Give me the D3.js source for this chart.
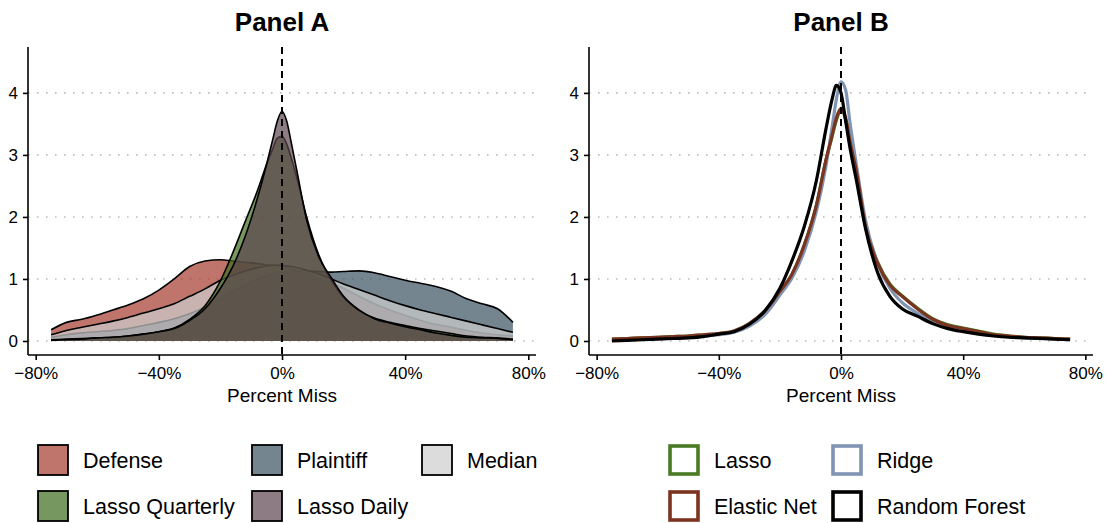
<!DOCTYPE html>
<html>
<head>
<meta charset="utf-8">
<script src="https://cdn.jsdelivr.net/npm/d3@7"></script>
<style>
  body { margin: 0; background: #fff; }
  text { font-family: "Liberation Sans", Arial, sans-serif; fill: #000; }
</style>
</head>
<body>
<div id="chart"></div>
<script>
// percent miss grid (x) shared by all curves
var missPct = [-75,-70,-65,-60,-55,-50,-45,-40,-35,-30,-25,-20,-16,-12,-8,-5,-3,-1.5,0,1.5,3,5,8,12,16,20,25,30,35,40,45,50,55,60,65,70,75];

// Panel A densities
var defense   = [0.18,0.30,0.35,0.42,0.50,0.58,0.68,0.82,1.00,1.20,1.29,1.31,1.29,1.27,1.25,1.23,1.22,1.21,1.20,1.18,1.16,1.13,1.08,1.00,0.93,0.85,0.72,0.60,0.50,0.41,0.33,0.27,0.22,0.17,0.13,0.10,0.08];
var plaintiff = [0.06,0.10,0.13,0.15,0.17,0.20,0.25,0.30,0.36,0.44,0.55,0.68,0.80,0.91,1.00,1.05,1.08,1.10,1.11,1.12,1.12,1.13,1.13,1.12,1.11,1.12,1.13,1.10,1.04,0.98,0.93,0.88,0.80,0.68,0.60,0.52,0.30];
var median    = [0.10,0.17,0.22,0.27,0.32,0.38,0.45,0.52,0.60,0.72,0.84,0.98,1.06,1.13,1.18,1.21,1.22,1.22,1.22,1.21,1.20,1.18,1.14,1.08,1.00,0.92,0.83,0.74,0.65,0.57,0.50,0.44,0.38,0.32,0.26,0.20,0.14];
var lassoQuarterly = [0.02,0.03,0.04,0.05,0.06,0.08,0.11,0.15,0.21,0.35,0.57,0.97,1.42,1.92,2.42,2.85,3.10,3.27,3.30,3.18,2.95,2.60,2.00,1.38,0.98,0.70,0.49,0.37,0.30,0.25,0.20,0.16,0.12,0.08,0.06,0.05,0.03];
var lassoDaily     = [0.01,0.02,0.03,0.05,0.06,0.08,0.11,0.15,0.20,0.33,0.52,0.85,1.20,1.68,2.30,2.85,3.25,3.55,3.70,3.55,3.20,2.70,1.95,1.35,1.02,0.72,0.50,0.36,0.29,0.23,0.18,0.13,0.09,0.06,0.05,0.04,0.02];

// Panel B densities
var lasso        = [0.03,0.04,0.05,0.06,0.07,0.08,0.10,0.12,0.16,0.28,0.48,0.80,1.08,1.55,2.20,2.90,3.28,3.56,3.72,3.58,3.20,2.75,1.87,1.27,0.92,0.73,0.53,0.36,0.26,0.21,0.16,0.11,0.08,0.06,0.05,0.04,0.03];
var elasticNet   = [0.03,0.04,0.05,0.06,0.07,0.08,0.10,0.12,0.16,0.28,0.48,0.80,1.08,1.55,2.20,2.90,3.30,3.60,3.75,3.60,3.20,2.75,1.85,1.25,0.90,0.72,0.52,0.35,0.25,0.20,0.15,0.10,0.08,0.06,0.05,0.04,0.03];
var ridge        = [0.01,0.02,0.03,0.04,0.05,0.06,0.08,0.10,0.14,0.24,0.42,0.74,1.02,1.45,2.10,2.80,3.42,3.90,4.18,4.05,3.50,2.85,1.95,1.25,0.85,0.62,0.45,0.32,0.23,0.17,0.12,0.09,0.07,0.05,0.04,0.03,0.02];
var randomForest = [0.00,0.01,0.02,0.03,0.04,0.05,0.07,0.11,0.15,0.27,0.48,0.85,1.30,1.85,2.60,3.40,3.88,4.12,4.00,3.55,3.10,2.60,1.82,1.10,0.72,0.52,0.40,0.28,0.20,0.15,0.11,0.08,0.06,0.05,0.04,0.03,0.02];

var xTicks = [-80, -40, 0, 40, 80];
var yTicks = [0, 1, 2, 3, 4];

var seriesA = [
  {name: "Defense",         values: defense,        color: "#a53b2d"},
  {name: "Plaintiff",       values: plaintiff,      color: "#3b5160"},
  {name: "Median",          values: median,         color: "#cdcdcd"},
  {name: "Lasso Quarterly", values: lassoQuarterly, color: "#3d6b1e"},
  {name: "Lasso Daily",     values: lassoDaily,     color: "#5c454e"}
];
var seriesB = [
  {name: "Lasso",         values: lasso,        color: "#4a7a24"},
  {name: "Ridge",         values: ridge,        color: "#8094b3"},
  {name: "Elastic Net",   values: elasticNet,   color: "#7b3420"},
  {name: "Random Forest", values: randomForest, color: "#000000"}
];
var legendOrderB = ["Lasso", "Ridge", "Elastic Net", "Random Forest"];

var W = 1108, H = 523;
var svg = d3.select("#chart").append("svg")
  .attr("width", W).attr("height", H);

var plotTop = 47, plotBottom = 355;
var y = d3.scaleLinear().domain([-0.226, 4.74]).range([plotBottom, plotTop]);

function drawPanel(title, left, right, series, filled) {
  var x = d3.scaleLinear().domain([-82.5, 82.5]).range([left, right]);
  var cx = x(0);
  var g = svg.append("g");

  g.append("text")
    .attr("x", cx).attr("y", 31)
    .attr("text-anchor", "middle")
    .style("font-size", "26px").style("font-weight", "bold")
    .text(title);

  // dotted gridlines
  g.selectAll(".grid").data(yTicks).enter().append("line")
    .attr("x1", left).attr("x2", right)
    .attr("y1", function(d) { return y(d); })
    .attr("y2", function(d) { return y(d); })
    .attr("stroke", "#bdbdbd")
    .attr("stroke-width", 1.6)
    .attr("stroke-dasharray", "1.6,7.4");

  var line = d3.line()
    .x(function(d, i) { return x(missPct[i]); })
    .y(function(d) { return y(d); })
    .curve(d3.curveMonotoneX);

  if (filled) {
    var area = d3.area()
      .x(function(d, i) { return x(missPct[i]); })
      .y0(y(0))
      .y1(function(d) { return y(d); })
      .curve(d3.curveMonotoneX);
    series.forEach(function(s) {
      g.append("path").attr("d", area(s.values))
        .attr("fill", s.color).attr("fill-opacity", 0.7);
      g.append("path").attr("d", line(s.values))
        .attr("fill", "none").attr("stroke", "#000").attr("stroke-width", 1.6);
    });
  } else {
    series.forEach(function(s) {
      g.append("path").attr("d", line(s.values))
        .attr("fill", "none").attr("stroke", s.color)
        .attr("stroke-width", 3.2).attr("stroke-linejoin", "round");
    });
  }

  // zero line
  g.append("line")
    .attr("x1", cx).attr("x2", cx).attr("y1", plotTop).attr("y2", plotBottom)
    .attr("stroke", "#000").attr("stroke-width", 2)
    .attr("stroke-dasharray", "7,5");

  var ya = g.append("g").attr("transform", "translate(" + left + ",0)")
    .call(d3.axisLeft(y).tickValues(yTicks).tickSize(5).tickSizeOuter(0).tickPadding(5)
      .tickFormat(d3.format("d")));
  var xa = g.append("g").attr("transform", "translate(0," + plotBottom + ")")
    .call(d3.axisBottom(x).tickValues(xTicks).tickSize(5).tickSizeOuter(0).tickPadding(7)
      .tickFormat(function(d) { return d3.format("d")(d) + "%"; }));
  [ya, xa].forEach(function(a) {
    a.select(".domain").attr("stroke", "#000").attr("stroke-width", 1.6);
    a.selectAll(".tick line").attr("stroke", "#000").attr("stroke-width", 1.6);
    a.selectAll("text").style("font-size", "17px")
      .style("font-family", "'Liberation Sans', Arial, sans-serif").attr("fill", "#000");
  });
  ya.select(".domain").attr("d", "M0," + plotTop + "V" + plotBottom);
  xa.select(".domain").attr("d", "M" + left + ",0H" + right);

  g.append("text")
    .attr("x", cx).attr("y", 402)
    .attr("text-anchor", "middle")
    .style("font-size", "19px")
    .text("Percent Miss");
}

drawPanel("Panel A", 28, 536, seriesA, true);
drawPanel("Panel B", 589, 1093, seriesB, false);

// legend A
var legA = [
  {s: seriesA[0], x: 38,  row: 0},
  {s: seriesA[1], x: 252, row: 0},
  {s: seriesA[2], x: 422, row: 0},
  {s: seriesA[3], x: 38,  row: 1},
  {s: seriesA[4], x: 252, row: 1}
];
var rowY = [445, 491];
legA.forEach(function(d) {
  svg.append("rect")
    .attr("x", d.x).attr("y", rowY[d.row]).attr("width", 30).attr("height", 30)
    .attr("fill", d.s.color).attr("fill-opacity", 0.7)
    .attr("stroke", "#000").attr("stroke-width", 1.8);
  svg.append("text")
    .attr("x", d.x + 45).attr("y", rowY[d.row] + 23)
    .style("font-size", "21.5px")
    .text(d.s.name);
});

// legend B
var legBPos = [[670, 0], [833, 0], [670, 1], [833, 1]];
legendOrderB.forEach(function(name, i) {
  var s = seriesB.filter(function(t) { return t.name === name; })[0];
  var p = legBPos[i];
  svg.append("rect")
    .attr("x", p[0]).attr("y", rowY[p[1]] + 1).attr("width", 28).attr("height", 28)
    .attr("fill", "#fff")
    .attr("stroke", s.color).attr("stroke-width", 3.6);
  svg.append("text")
    .attr("x", p[0] + 44).attr("y", rowY[p[1]] + 23)
    .style("font-size", "21.5px")
    .text(name);
});
</script>
</body>
</html>
